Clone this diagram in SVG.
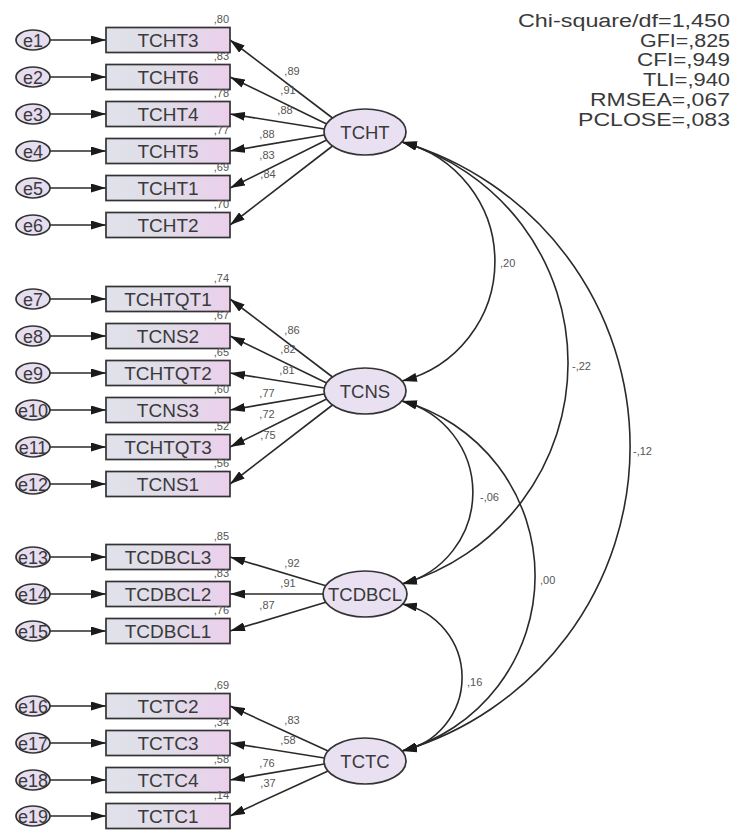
<svg xmlns="http://www.w3.org/2000/svg" width="735" height="831" viewBox="0 0 735 831">
<style>
.bg{fill:#ffffff}
.box{fill:url(#boxg);stroke:#333;stroke-width:1.7}
.lat{fill:#e9e1f2;stroke:#333;stroke-width:1.7}
.err{fill:#e6ddf0;stroke:#333;stroke-width:1.7}
.ln{fill:none;stroke:#2a2a2a;stroke-width:1.6;marker-end:url(#ah)}
.arc{fill:none;stroke:#2a2a2a;stroke-width:1.6;marker-start:url(#ah);marker-end:url(#ah)}
.bt{font-family:"Liberation Sans",Arial,sans-serif;font-size:19px;fill:#3a3a3a;text-anchor:middle}
.lt{font-family:"Liberation Sans",Arial,sans-serif;font-size:18.5px;fill:#3a3a3a;text-anchor:middle}
.et{font-family:"Liberation Sans",Arial,sans-serif;font-size:18px;fill:#3a3a3a;text-anchor:middle}
.sm{font-family:"Liberation Sans",Arial,sans-serif;font-size:11px;fill:#555}
.sme{font-family:"Liberation Sans",Arial,sans-serif;font-size:11px;fill:#555;text-anchor:end}
.smm{font-family:"Liberation Sans",Arial,sans-serif;font-size:11px;fill:#555;text-anchor:middle}
.fit{font-family:"Liberation Sans",Arial,sans-serif;font-size:18px;fill:#3a3a3a}
</style>
<defs>
<linearGradient id="boxg" x1="0" y1="0" x2="1" y2="0">
<stop offset="0" stop-color="#e0e2ea"/>
<stop offset="0.45" stop-color="#e0dde9"/>
<stop offset="1" stop-color="#ebcfec"/>
</linearGradient>
<marker id="ah" markerUnits="userSpaceOnUse" markerWidth="15" markerHeight="9" refX="15" refY="4.5" orient="auto-start-reverse" viewBox="0 0 15 9">
<path d="M0,0 L15,4.5 L0,9 z" fill="#1a1a1a"/>
</marker>
</defs>
<rect class="bg" x="0" y="0" width="735" height="831"/>

<g id="connectors">
<line class="ln" x1="50" y1="40" x2="106" y2="40"/>
<line class="ln" x1="50" y1="77" x2="106" y2="77"/>
<line class="ln" x1="50" y1="114" x2="106" y2="114"/>
<line class="ln" x1="50" y1="151" x2="106" y2="151"/>
<line class="ln" x1="50" y1="188" x2="106" y2="188"/>
<line class="ln" x1="50" y1="225" x2="106" y2="225"/>
<line class="ln" x1="50" y1="299" x2="106" y2="299"/>
<line class="ln" x1="50" y1="336" x2="106" y2="336"/>
<line class="ln" x1="50" y1="373" x2="106" y2="373"/>
<line class="ln" x1="50" y1="410" x2="106" y2="410"/>
<line class="ln" x1="50" y1="447" x2="106" y2="447"/>
<line class="ln" x1="50" y1="484" x2="106" y2="484"/>
<line class="ln" x1="50" y1="557" x2="106" y2="557"/>
<line class="ln" x1="50" y1="594" x2="106" y2="594"/>
<line class="ln" x1="50" y1="631" x2="106" y2="631"/>
<line class="ln" x1="50" y1="706" x2="106" y2="706"/>
<line class="ln" x1="50" y1="743" x2="106" y2="743"/>
<line class="ln" x1="50" y1="780" x2="106" y2="780"/>
<line class="ln" x1="50" y1="816" x2="106" y2="816"/>
<line class="ln" x1="332.5" y1="118" x2="230" y2="40"/>
<line class="ln" x1="326.6" y1="124" x2="230" y2="77"/>
<line class="ln" x1="324.4" y1="129" x2="230" y2="114"/>
<line class="ln" x1="324.4" y1="135" x2="230" y2="151"/>
<line class="ln" x1="326.6" y1="140" x2="230" y2="188"/>
<line class="ln" x1="332.5" y1="146" x2="230" y2="225"/>
<line class="ln" x1="332.5" y1="377" x2="230" y2="299"/>
<line class="ln" x1="326.6" y1="383" x2="230" y2="336"/>
<line class="ln" x1="324.4" y1="388" x2="230" y2="373"/>
<line class="ln" x1="324.4" y1="394" x2="230" y2="410"/>
<line class="ln" x1="326.6" y1="399" x2="230" y2="447"/>
<line class="ln" x1="332.5" y1="405" x2="230" y2="484"/>
<line class="ln" x1="326.6" y1="586" x2="230" y2="557"/>
<line class="ln" x1="324" y1="594" x2="230" y2="594"/>
<line class="ln" x1="326.6" y1="602" x2="230" y2="631"/>
<line class="ln" x1="328.1" y1="751" x2="230" y2="706"/>
<line class="ln" x1="324.4" y1="758" x2="230" y2="743"/>
<line class="ln" x1="324.4" y1="764" x2="230" y2="780"/>
<line class="ln" x1="328.1" y1="771" x2="230" y2="816"/>
<path class="arc" d="M402,142 A123.3,123.3 0 0 1 402,381"/>
<path class="arc" d="M402,142 A230.1,230.1 0 0 1 402,584"/>
<path class="arc" d="M402,142 A317.3,317.3 0 0 1 402,751"/>
<path class="arc" d="M402,401 A94.5,94.5 0 0 1 402,584"/>
<path class="arc" d="M402,401 A181.6,181.6 0 0 1 402,751"/>
<path class="arc" d="M402,604 A75,75 0 0 1 402,751"/>
<text class="smm" x="292" y="75">,89</text>
<text class="smm" x="288" y="94">,91</text>
<text class="smm" x="285" y="114">,88</text>
<text class="smm" x="267" y="138">,88</text>
<text class="smm" x="267" y="159">,83</text>
<text class="smm" x="268" y="178">,84</text>
<text class="smm" x="292" y="334">,86</text>
<text class="smm" x="288" y="353">,82</text>
<text class="smm" x="287" y="374">,81</text>
<text class="smm" x="267" y="397">,77</text>
<text class="smm" x="267" y="418">,72</text>
<text class="smm" x="268" y="439">,75</text>
<text class="smm" x="292" y="567">,92</text>
<text class="smm" x="288" y="587">,91</text>
<text class="smm" x="267" y="609">,87</text>
<text class="smm" x="292" y="724">,83</text>
<text class="smm" x="288" y="744">,58</text>
<text class="smm" x="267" y="767">,76</text>
<text class="smm" x="268" y="787">,37</text>
<text class="sm" x="500" y="267">,20</text>
<text class="sm" x="572" y="370">-,22</text>
<text class="sm" x="633" y="455">-,12</text>
<text class="sm" x="480" y="501">-,06</text>
<text class="sm" x="540" y="584">,00</text>
<text class="sm" x="467" y="686">,16</text>
</g>

<g id="e1"><ellipse class="err" cx="33" cy="40" rx="17" ry="10"/><text class="et" x="33" y="46.5">e1</text></g>
<g id="e2"><ellipse class="err" cx="33" cy="77" rx="17" ry="10"/><text class="et" x="33" y="83.5">e2</text></g>
<g id="e3"><ellipse class="err" cx="33" cy="114" rx="17" ry="10"/><text class="et" x="33" y="120.5">e3</text></g>
<g id="e4"><ellipse class="err" cx="33" cy="151" rx="17" ry="10"/><text class="et" x="33" y="157.5">e4</text></g>
<g id="e5"><ellipse class="err" cx="33" cy="188" rx="17" ry="10"/><text class="et" x="33" y="194.5">e5</text></g>
<g id="e6"><ellipse class="err" cx="33" cy="225" rx="17" ry="10"/><text class="et" x="33" y="231.5">e6</text></g>
<g id="e7"><ellipse class="err" cx="33" cy="299" rx="17" ry="10"/><text class="et" x="33" y="305.5">e7</text></g>
<g id="e8"><ellipse class="err" cx="33" cy="336" rx="17" ry="10"/><text class="et" x="33" y="342.5">e8</text></g>
<g id="e9"><ellipse class="err" cx="33" cy="373" rx="17" ry="10"/><text class="et" x="33" y="379.5">e9</text></g>
<g id="e10"><ellipse class="err" cx="33" cy="410" rx="17" ry="10"/><text class="et" x="33" y="416.5">e10</text></g>
<g id="e11"><ellipse class="err" cx="33" cy="447" rx="17" ry="10"/><text class="et" x="33" y="453.5">e11</text></g>
<g id="e12"><ellipse class="err" cx="33" cy="484" rx="17" ry="10"/><text class="et" x="33" y="490.5">e12</text></g>
<g id="e13"><ellipse class="err" cx="33" cy="557" rx="17" ry="10"/><text class="et" x="33" y="563.5">e13</text></g>
<g id="e14"><ellipse class="err" cx="33" cy="594" rx="17" ry="10"/><text class="et" x="33" y="600.5">e14</text></g>
<g id="e15"><ellipse class="err" cx="33" cy="631" rx="17" ry="10"/><text class="et" x="33" y="637.5">e15</text></g>
<g id="e16"><ellipse class="err" cx="33" cy="706" rx="17" ry="10"/><text class="et" x="33" y="712.5">e16</text></g>
<g id="e17"><ellipse class="err" cx="33" cy="743" rx="17" ry="10"/><text class="et" x="33" y="749.5">e17</text></g>
<g id="e18"><ellipse class="err" cx="33" cy="780" rx="17" ry="10"/><text class="et" x="33" y="786.5">e18</text></g>
<g id="e19"><ellipse class="err" cx="33" cy="816" rx="17" ry="10"/><text class="et" x="33" y="822.5">e19</text></g>

<g id="TCHT3"><rect class="box" x="106" y="27.5" width="124" height="25"/><text class="bt" x="168" y="46.8">TCHT3</text><text class="sme" x="229" y="23">,80</text></g>
<g id="TCHT6"><rect class="box" x="106" y="64.5" width="124" height="25"/><text class="bt" x="168" y="83.8">TCHT6</text><text class="sme" x="229" y="60">,83</text></g>
<g id="TCHT4"><rect class="box" x="106" y="101.5" width="124" height="25"/><text class="bt" x="168" y="120.8">TCHT4</text><text class="sme" x="229" y="97">,78</text></g>
<g id="TCHT5"><rect class="box" x="106" y="138.5" width="124" height="25"/><text class="bt" x="168" y="157.8">TCHT5</text><text class="sme" x="229" y="134">,77</text></g>
<g id="TCHT1"><rect class="box" x="106" y="175.5" width="124" height="25"/><text class="bt" x="168" y="194.8">TCHT1</text><text class="sme" x="229" y="171">,69</text></g>
<g id="TCHT2"><rect class="box" x="106" y="212.5" width="124" height="25"/><text class="bt" x="168" y="231.8">TCHT2</text><text class="sme" x="229" y="208">,70</text></g>

<g id="TCHTQT1"><rect class="box" x="106" y="286.5" width="124" height="25"/><text class="bt" x="168" y="305.8">TCHTQT1</text><text class="sme" x="229" y="282">,74</text></g>
<g id="TCNS2"><rect class="box" x="106" y="323.5" width="124" height="25"/><text class="bt" x="168" y="342.8">TCNS2</text><text class="sme" x="229" y="319">,67</text></g>
<g id="TCHTQT2"><rect class="box" x="106" y="360.5" width="124" height="25"/><text class="bt" x="168" y="379.8">TCHTQT2</text><text class="sme" x="229" y="356">,65</text></g>
<g id="TCNS3"><rect class="box" x="106" y="397.5" width="124" height="25"/><text class="bt" x="168" y="416.8">TCNS3</text><text class="sme" x="229" y="393">,60</text></g>
<g id="TCHTQT3"><rect class="box" x="106" y="434.5" width="124" height="25"/><text class="bt" x="168" y="453.8">TCHTQT3</text><text class="sme" x="229" y="430">,52</text></g>
<g id="TCNS1"><rect class="box" x="106" y="471.5" width="124" height="25"/><text class="bt" x="168" y="490.8">TCNS1</text><text class="sme" x="229" y="467">,56</text></g>

<g id="TCDBCL3"><rect class="box" x="106" y="544.5" width="124" height="25"/><text class="bt" x="168" y="563.8">TCDBCL3</text><text class="sme" x="229" y="540">,85</text></g>
<g id="TCDBCL2"><rect class="box" x="106" y="581.5" width="124" height="25"/><text class="bt" x="168" y="600.8">TCDBCL2</text><text class="sme" x="229" y="577">,83</text></g>
<g id="TCDBCL1"><rect class="box" x="106" y="618.5" width="124" height="25"/><text class="bt" x="168" y="637.8">TCDBCL1</text><text class="sme" x="229" y="614">,76</text></g>

<g id="TCTC2"><rect class="box" x="106" y="693.5" width="124" height="25"/><text class="bt" x="168" y="712.8">TCTC2</text><text class="sme" x="229" y="689">,69</text></g>
<g id="TCTC3"><rect class="box" x="106" y="730.5" width="124" height="25"/><text class="bt" x="168" y="749.8">TCTC3</text><text class="sme" x="229" y="726">,34</text></g>
<g id="TCTC4"><rect class="box" x="106" y="767.5" width="124" height="25"/><text class="bt" x="168" y="786.8">TCTC4</text><text class="sme" x="229" y="763">,58</text></g>
<g id="TCTC1"><rect class="box" x="106" y="803.5" width="124" height="25"/><text class="bt" x="168" y="822.8">TCTC1</text><text class="sme" x="229" y="799">,14</text></g>

<g id="TCHT"><ellipse class="lat" cx="365" cy="132" rx="41" ry="23"/><text class="lt" x="365" y="138.5">TCHT</text></g>
<g id="TCNS"><ellipse class="lat" cx="365" cy="391" rx="41" ry="23"/><text class="lt" x="365" y="397.5">TCNS</text></g>
<g id="TCDBCL"><ellipse class="lat" cx="365" cy="594" rx="42" ry="23"/><text class="lt" x="365" y="600.5">TCDBCL</text></g>
<g id="TCTC"><ellipse class="lat" cx="365" cy="761" rx="41" ry="23"/><text class="lt" x="365" y="767.5">TCTC</text></g>

<g id="fit">
<text class="fit" x="518" y="26.5" textLength="212" lengthAdjust="spacingAndGlyphs">Chi-square/df=1,450</text>
<text class="fit" x="640" y="46.5" textLength="90" lengthAdjust="spacingAndGlyphs">GFI=,825</text>
<text class="fit" x="637" y="65.5" textLength="93" lengthAdjust="spacingAndGlyphs">CFI=,949</text>
<text class="fit" x="643" y="85.5" textLength="87" lengthAdjust="spacingAndGlyphs">TLI=,940</text>
<text class="fit" x="590" y="105.5" textLength="140" lengthAdjust="spacingAndGlyphs">RMSEA=,067</text>
<text class="fit" x="578" y="125.5" textLength="152" lengthAdjust="spacingAndGlyphs">PCLOSE=,083</text>
</g>
</svg>
